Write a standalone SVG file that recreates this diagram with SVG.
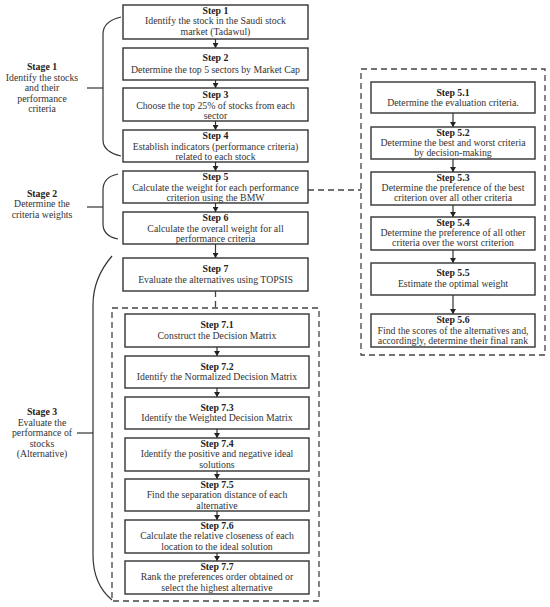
<svg xmlns="http://www.w3.org/2000/svg" width="550" height="607" viewBox="0 0 550 607">
<style>
.bx{fill:#fff;stroke:#333;stroke-width:1.4}
.dbox{fill:none;stroke:#444;stroke-width:1.3;stroke-dasharray:6,4}
.ln{fill:none;stroke:#333;stroke-width:1.2}
.dl{fill:none;stroke:#444;stroke-width:1.3;stroke-dasharray:6,4}
.br{fill:none;stroke:#333;stroke-width:1.2}
text{font-family:"Liberation Serif","Times New Roman",serif;font-size:9.8px;fill:#333;text-anchor:middle}
.h{font-weight:bold;fill:#222}
</style>
<defs>
<marker id="ah" markerWidth="6" markerHeight="6" refX="5" refY="3" orient="auto" markerUnits="userSpaceOnUse">
<path d="M0,0 L5,3 L0,6 Z" fill="#222"/>
</marker>
</defs>
<rect x="0" y="0" width="550" height="607" fill="#fff"/>

<g id="connectors">
<line class="ln" x1="215.5" y1="39" x2="215.5" y2="48" marker-end="url(#ah)"/>
<line class="ln" x1="215.5" y1="80" x2="215.5" y2="88" marker-end="url(#ah)"/>
<line class="ln" x1="215.5" y1="121" x2="215.5" y2="130" marker-end="url(#ah)"/>
<line class="ln" x1="215.5" y1="162" x2="215.5" y2="171" marker-end="url(#ah)"/>
<line class="ln" x1="215.5" y1="203" x2="215.5" y2="212" marker-end="url(#ah)"/>
<line class="ln" x1="215.5" y1="244" x2="215.5" y2="258" marker-end="url(#ah)"/>
<line class="dl" x1="215.5" y1="291" x2="215.5" y2="308"/>
<line class="dl" x1="308" y1="190" x2="361" y2="190"/>
<line class="ln" x1="453" y1="113" x2="453" y2="127" marker-end="url(#ah)"/>
<line class="ln" x1="453" y1="159" x2="453" y2="172" marker-end="url(#ah)"/>
<line class="ln" x1="453" y1="205" x2="453" y2="217" marker-end="url(#ah)"/>
<line class="ln" x1="453" y1="250" x2="453" y2="263" marker-end="url(#ah)"/>
<line class="ln" x1="453" y1="295" x2="453" y2="314" marker-end="url(#ah)"/>
<line class="ln" x1="217" y1="347" x2="217" y2="356" marker-end="url(#ah)"/>
<line class="ln" x1="217" y1="388" x2="217" y2="397" marker-end="url(#ah)"/>
<line class="ln" x1="217" y1="429" x2="217" y2="438" marker-end="url(#ah)"/>
<line class="ln" x1="217" y1="471" x2="217" y2="479" marker-end="url(#ah)"/>
<line class="ln" x1="217" y1="511" x2="217" y2="520" marker-end="url(#ah)"/>
<line class="ln" x1="217" y1="553" x2="217" y2="561" marker-end="url(#ah)"/>
</g>

<g id="groups">
<rect class="dbox" x="361" y="69" width="184" height="286"/>
<rect class="dbox" x="112" y="308" width="207" height="293"/>
</g>

<g id="stage1">
<path class="br" d="M121,17 C108,20 103,26 103,34 L103,140 C103,148 108,153 121,156"/>
<line class="br" x1="87" y1="88" x2="103" y2="88"/>
<text class="h" x="42" y="70">Stage 1</text>
<text x="42" y="80.5">Identify the stocks</text>
<text x="42" y="91">and their</text>
<text x="42" y="101.5">performance</text>
<text x="42" y="112">criteria</text>
</g>

<g id="stage2">
<path class="br" d="M118,174 C108,176 103,182 103,190 L103,224 C103,232 108,237 118,239"/>
<line class="br" x1="87" y1="207" x2="103" y2="207"/>
<text class="h" x="42" y="196.5">Stage 2</text>
<text x="42" y="207">Determine the</text>
<text x="42" y="217.5">criteria weights</text>
</g>

<g id="stage3">
<path class="br" d="M112,256 C100,270 93,285 93,305 L93,555 C93,575 100,590 112,600"/>
<line class="br" x1="77" y1="433" x2="93" y2="433"/>
<text class="h" x="42" y="415">Stage 3</text>
<text x="42" y="425.5">Evaluate the</text>
<text x="42" y="436">performance of</text>
<text x="42" y="446.5">stocks</text>
<text x="42" y="457">(Alternative)</text>
</g>

<g id="step1"><rect class="bx" x="123" y="5" width="185" height="34"/>
<text class="h" x="215.5" y="13.5">Step 1</text>
<text x="215.5" y="24">Identify the stock in the Saudi stock</text>
<text x="215.5" y="35">market (Tadawul)</text></g>

<g id="step2"><rect class="bx" x="123" y="48" width="185" height="32"/>
<text class="h" x="215.5" y="61">Step 2</text>
<text x="215.5" y="72.5">Determine the top 5 sectors by Market Cap</text></g>

<g id="step3"><rect class="bx" x="123" y="88" width="185" height="33"/>
<text class="h" x="215.5" y="98">Step 3</text>
<text x="215.5" y="108.5">Choose the top 25% of stocks from each</text>
<text x="215.5" y="118.5">sector</text></g>

<g id="step4"><rect class="bx" x="123" y="130" width="185" height="32"/>
<text class="h" x="215.5" y="139">Step 4</text>
<text x="215.5" y="149.5">Establish indicators (performance criteria)</text>
<text x="215.5" y="159.5">related to each stock</text></g>

<g id="step5"><rect class="bx" x="123" y="171" width="185" height="32"/>
<text class="h" x="215.5" y="180">Step 5</text>
<text x="215.5" y="190.5">Calculate the weight for each performance</text>
<text x="215.5" y="200.5">criterion using the BMW</text></g>

<g id="step6"><rect class="bx" x="123" y="212" width="185" height="32"/>
<text class="h" x="215.5" y="221">Step 6</text>
<text x="215.5" y="231.5">Calculate the overall weight for all</text>
<text x="215.5" y="241.5">performance criteria</text></g>

<g id="step7"><rect class="bx" x="123" y="258" width="185" height="33"/>
<text class="h" x="215.5" y="272">Step 7</text>
<text x="215.5" y="283">Evaluate the alternatives using TOPSIS</text></g>

<g id="step5_1"><rect class="bx" x="371" y="82" width="164" height="31"/>
<text class="h" x="453" y="95.5">Step 5.1</text>
<text x="453" y="106">Determine the evaluation criteria.</text></g>

<g id="step5_2"><rect class="bx" x="371" y="127" width="164" height="32"/>
<text class="h" x="453" y="135.5">Step 5.2</text>
<text x="453" y="146">Determine the best and worst criteria</text>
<text x="453" y="156">by decision-making</text></g>

<g id="step5_3"><rect class="bx" x="371" y="172" width="164" height="33"/>
<text class="h" x="453" y="180.5">Step 5.3</text>
<text x="453" y="191">Determine the preference of the best</text>
<text x="453" y="201">criterion over all other criteria</text></g>

<g id="step5_4"><rect class="bx" x="371" y="217" width="164" height="33"/>
<text class="h" x="453" y="225.5">Step 5.4</text>
<text x="453" y="236">Determine the preference of all other</text>
<text x="453" y="246">criteria over the worst criterion</text></g>

<g id="step5_5"><rect class="bx" x="371" y="263" width="164" height="32"/>
<text class="h" x="453" y="276">Step 5.5</text>
<text x="453" y="287">Estimate the optimal weight</text></g>

<g id="step5_6"><rect class="bx" x="371" y="314" width="164" height="33"/>
<text class="h" x="453" y="323">Step 5.6</text>
<text x="453" y="333.5">Find the scores of the alternatives and,</text>
<text x="453" y="344">accordingly, determine their final rank</text></g>

<g id="step7_1"><rect class="bx" x="125" y="314" width="184" height="33"/>
<text class="h" x="217" y="328">Step 7.1</text>
<text x="217" y="339">Construct the Decision Matrix</text></g>

<g id="step7_2"><rect class="bx" x="125" y="356" width="184" height="32"/>
<text class="h" x="217" y="369.5">Step 7.2</text>
<text x="217" y="380">Identify the Normalized Decision Matrix</text></g>

<g id="step7_3"><rect class="bx" x="125" y="397" width="184" height="32"/>
<text class="h" x="217" y="410.5">Step 7.3</text>
<text x="217" y="421">Identify the Weighted Decision Matrix</text></g>

<g id="step7_4"><rect class="bx" x="125" y="438" width="184" height="33"/>
<text class="h" x="217" y="446.5">Step 7.4</text>
<text x="217" y="457">Identify the positive and negative ideal</text>
<text x="217" y="467.5">solutions</text></g>

<g id="step7_5"><rect class="bx" x="125" y="479" width="184" height="32"/>
<text class="h" x="217" y="487.5">Step 7.5</text>
<text x="217" y="498">Find the separation distance of each</text>
<text x="217" y="508.5">alternative</text></g>

<g id="step7_6"><rect class="bx" x="125" y="520" width="184" height="33"/>
<text class="h" x="217" y="528.5">Step 7.6</text>
<text x="217" y="539">Calculate the relative closeness of each</text>
<text x="217" y="549.5">location to the ideal solution</text></g>

<g id="step7_7"><rect class="bx" x="125" y="561" width="184" height="33"/>
<text class="h" x="217" y="569.5">Step 7.7</text>
<text x="217" y="580">Rank the preferences order obtained or</text>
<text x="217" y="590.5">select the highest alternative</text></g>
</svg>
